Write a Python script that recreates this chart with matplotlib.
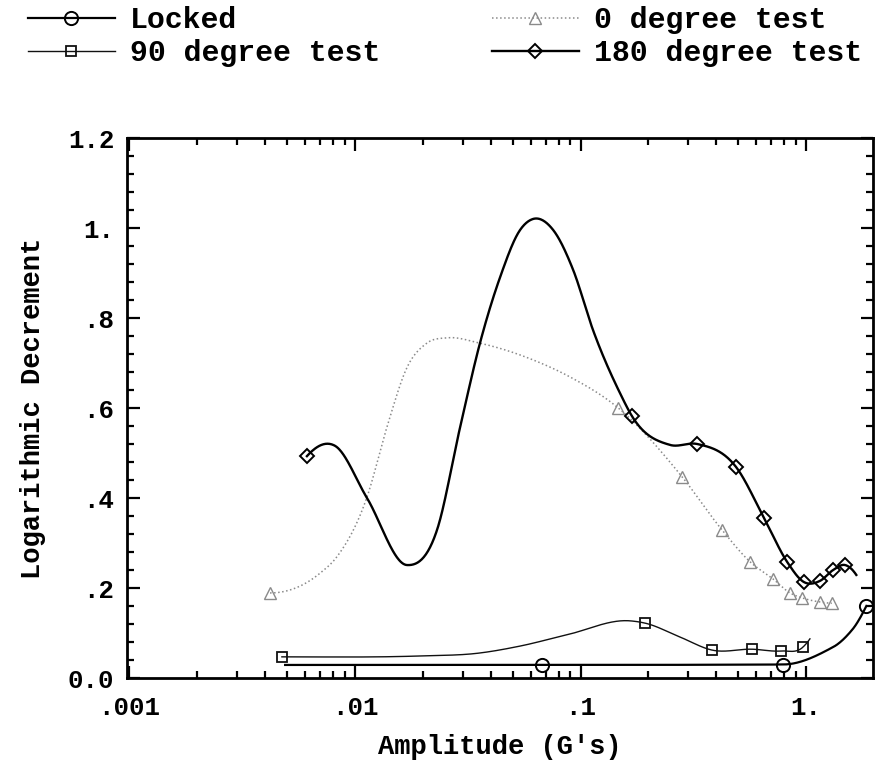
import numpy as np
import matplotlib
matplotlib.use("Agg")
import matplotlib.pyplot as plt
from matplotlib.lines import Line2D
from matplotlib.ticker import FixedLocator, FixedFormatter, NullFormatter, MultipleLocator

# ---------------- data ----------------
series_names = ["Locked", "0 degree test", "90 degree test", "180 degree test"]

locked_x = [0.0049, 0.0675, 0.79, 1.32, 1.60, 1.85]
locked_y = [0.029, 0.029, 0.030, 0.069, 0.107, 0.160]
locked_marked = [False, True, True, False, False, True]

deg0_x = [0.0042, 0.0070, 0.0083, 0.0113, 0.0139, 0.0170, 0.0208, 0.0256, 0.0358,
          0.0615, 0.0898, 0.147, 0.282, 0.424, 0.565, 0.714, 0.849, 0.96, 1.15, 1.30]
deg0_y = [0.189, 0.233, 0.269, 0.402, 0.560, 0.690, 0.744, 0.756, 0.744,
          0.707, 0.669, 0.600, 0.447, 0.329, 0.258, 0.220, 0.189, 0.178, 0.169, 0.166]
deg0_marked = [True, False, False, False, False, False, False, False, False,
               False, False, True, True, True, True, True, True, True, True, True]

deg90_x = [0.00474, 0.0194, 0.035, 0.054, 0.087, 0.166, 0.193, 0.276, 0.383,
           0.576, 0.775, 0.97, 1.04]
deg90_y = [0.047, 0.049, 0.055, 0.071, 0.096, 0.127, 0.122, 0.091, 0.062,
           0.064, 0.060, 0.069, 0.087]
deg90_marked = [True, False, False, False, False, False, True, False, True,
                True, True, True, False]

deg180_x = [0.00612, 0.00815, 0.0113, 0.0170, 0.0231, 0.0292, 0.0358, 0.044, 0.054,
            0.0615, 0.0755, 0.0927, 0.1136, 0.1496, 0.169, 0.249, 0.329, 0.489,
            0.652, 0.824, 0.98, 1.154, 1.318, 1.49, 1.67]
deg180_y = [0.493, 0.516, 0.400, 0.251, 0.329, 0.556, 0.744, 0.891, 0.996,
            1.020, 0.996, 0.907, 0.773, 0.633, 0.582, 0.518, 0.520, 0.469,
            0.355, 0.258, 0.213, 0.216, 0.240, 0.251, 0.229]
deg180_marked = [True, False, False, False, False, False, False, False, False,
                 False, False, False, False, False, True, False, True, True,
                 True, True, True, True, True, True, False]

x_tick_values = [0.001, 0.01, 0.1, 1.0]
x_tick_labels = [".001", ".01", ".1", "1."]
y_tick_values = [0.0, 0.2, 0.4, 0.6, 0.8, 1.0, 1.2]
y_tick_labels = ["0.0", ".2", ".4", ".6", ".8", "1.", "1.2"]
x_label = "Amplitude (G's)"
y_label = "Logarithmic Decrement"


# ---------------- smooth curve helper (cubic Hermite in log-x) ----------------
def hermite(xk, yk, xs, method="bessel"):
    xk = np.asarray(xk, float)
    yk = np.asarray(yk, float)
    h = np.diff(xk)
    delta = np.diff(yk) / h
    n = len(xk)
    d = np.zeros(n)
    for k in range(1, n - 1):
        if method == "pchip":
            if delta[k - 1] * delta[k] <= 0:
                d[k] = 0.0
            else:
                w1 = 2 * h[k] + h[k - 1]
                w2 = h[k] + 2 * h[k - 1]
                d[k] = (w1 + w2) / (w1 / delta[k - 1] + w2 / delta[k])
        else:
            d[k] = (delta[k - 1] * h[k] + delta[k] * h[k - 1]) / (h[k - 1] + h[k])

    def edge(h0, h1, m0, m1):
        dd = ((2 * h0 + h1) * m0 - h0 * m1) / (h0 + h1)
        if np.sign(dd) != np.sign(m0):
            dd = 0.0
        elif np.sign(m0) != np.sign(m1) and abs(dd) > abs(3 * m0):
            dd = 3 * m0
        return dd

    d[0] = edge(h[0], h[1], delta[0], delta[1])
    d[-1] = edge(h[-1], h[-2], delta[-1], delta[-2])
    idx = np.clip(np.searchsorted(xk, xs) - 1, 0, n - 2)
    t = (xs - xk[idx]) / h[idx]
    hh = h[idx]
    h00 = 2 * t**3 - 3 * t**2 + 1
    h10 = t**3 - 2 * t**2 + t
    h01 = -2 * t**3 + 3 * t**2
    h11 = t**3 - t**2
    return h00 * yk[idx] + h10 * hh * d[idx] + h01 * yk[idx + 1] + h11 * hh * d[idx + 1]


def smooth(xv, yv, method):
    lx = np.log10(np.asarray(xv, float))
    grid = np.linspace(lx[0], lx[-1], 800)
    return 10 ** grid, hermite(lx, yv, grid, method)


# ---------------- figure ----------------
plt.rcParams["font.family"] = ["Liberation Mono", "DejaVu Sans Mono"]
plt.rcParams["font.weight"] = "bold"

W, H = 875, 760
fig = plt.figure(figsize=(W / 100, H / 100), dpi=100)
ax = fig.add_axes([127 / W, 1 - 678 / H, (873 - 127) / W, (678 - 138) / H])
ax.set_xscale("log")
ax.set_xlim(0.000975, 1.98)
ax.set_ylim(0, 1.2)

styles = {
    "Locked": dict(color="black", ls="-", lw=1.6, marker="o", ms=9.5, mew=1.4, m="pchip"),
    "0 degree test": dict(color="#8a8a8a", ls=":", lw=1.1, marker="^", ms=8.5, mew=1.0, m="bessel"),
    "90 degree test": dict(color="#111111", ls="-", lw=1.0, marker="s", ms=6.5, mew=1.3, m="bessel"),
    "180 degree test": dict(color="black", ls="-", lw=1.7, marker="D", ms=7.0, mew=1.4, m="bessel"),
}

data = {
    "Locked": (locked_x, locked_y, locked_marked),
    "0 degree test": (deg0_x, deg0_y, deg0_marked),
    "90 degree test": (deg90_x, deg90_y, deg90_marked),
    "180 degree test": (deg180_x, deg180_y, deg180_marked),
}

handles = {}
for name in series_names:
    xv, yv, mk = data[name]
    st = styles[name]
    xs, ys = smooth(xv, yv, st["m"])
    ax.plot(xs, ys, color=st["color"], ls=st["ls"], lw=st["lw"], zorder=2)
    xm = [a for a, m in zip(xv, mk) if m]
    ym = [b for b, m in zip(yv, mk) if m]
    ax.plot(xm, ym, ls="none", marker=st["marker"], ms=st["ms"], mew=st["mew"],
            mfc="none", mec=st["color"], zorder=3)
    handles[name] = Line2D([], [], color=st["color"], ls=st["ls"], lw=st["lw"],
                           marker=st["marker"], ms=st["ms"], mew=st["mew"],
                           mfc="none", mec=st["color"])

# ticks
ax.xaxis.set_major_locator(FixedLocator(x_tick_values))
ax.xaxis.set_major_formatter(FixedFormatter(x_tick_labels))
minor = [m * 10.0**e for e in range(-3, 1) for m in range(2, 10)]
ax.xaxis.set_minor_locator(FixedLocator(minor))
ax.xaxis.set_minor_formatter(NullFormatter())
ax.yaxis.set_major_locator(FixedLocator(y_tick_values))
ax.yaxis.set_major_formatter(FixedFormatter(y_tick_labels))
ax.yaxis.set_minor_locator(MultipleLocator(0.04))

ax.tick_params(which="both", direction="in", top=True, right=True, width=1.6,
               labelsize=18.5, colors="black")
ax.tick_params(which="major", length=9)
ax.tick_params(which="minor", length=5)
ax.tick_params(axis="x", which="major", pad=13)
ax.tick_params(axis="y", which="major", pad=9)
for lab in ax.get_xticklabels() + ax.get_yticklabels():
    lab.set_fontweight("bold")
for sp in ax.spines.values():
    sp.set_linewidth(2.0)

ax.set_xlabel(x_label, fontsize=19.5, fontweight="bold", labelpad=10)
ax.set_ylabel(y_label, fontsize=19.5, fontweight="bold", labelpad=16)

# legend (two columns above the plot)
leg_kw = dict(frameon=False, handlelength=2.9, handletextpad=0.5,
              labelspacing=0.17, borderpad=0, borderaxespad=0, numpoints=1,
              prop=dict(family="Liberation Mono", weight="bold", size=21.5))
leg1 = fig.legend([handles["Locked"], handles["90 degree test"]],
                  ["Locked", "90 degree test"], loc="upper left",
                  bbox_to_anchor=(28 / W, 1 - 6 / H), **leg_kw)
leg2 = fig.legend([handles["0 degree test"], handles["180 degree test"]],
                  ["0 degree test", "180 degree test"], loc="upper left",
                  bbox_to_anchor=(492 / W, 1 - 6 / H), **leg_kw)

fig.savefig("out.png", dpi=100)
